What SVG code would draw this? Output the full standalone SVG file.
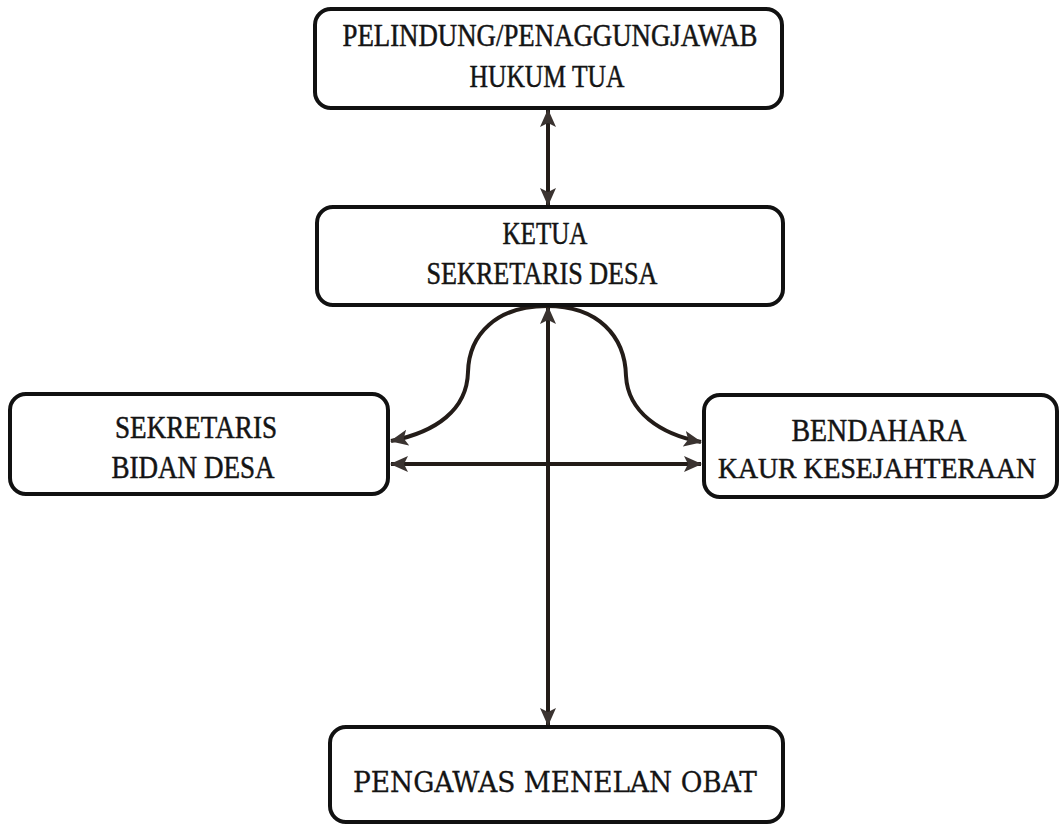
<svg xmlns="http://www.w3.org/2000/svg" width="1061" height="825" viewBox="0 0 1061 825">
  <style>
    .box { fill: #ffffff; stroke: #111111; stroke-width: 4; }
    .lbl { font-family: "Liberation Serif", "DejaVu Serif", serif; font-size: 31px; fill: #141414; stroke: #141414; stroke-width: 0.5; text-anchor: middle; }
    .lbl2 { font-family: "DejaVu Serif", "Liberation Serif", serif; font-size: 28px; fill: #141414; stroke: #141414; stroke-width: 0.3; text-anchor: middle; }
    .con { fill: none; stroke: #231c18; stroke-width: 4; }
  </style>
  <defs>
    <marker id="ah" markerUnits="userSpaceOnUse" markerWidth="20" markerHeight="18" refX="17" refY="9" orient="auto-start-reverse">
      <path d="M0,1 L18,9 L0,17 L4,9 Z" fill="#3a3330"/>
    </marker>
  </defs>
  <rect width="1061" height="825" fill="#ffffff"/>

  <g id="connectors">
    <line class="con" x1="548" y1="110" x2="548" y2="205" marker-start="url(#ah)" marker-end="url(#ah)"/>
    <line class="con" x1="548" y1="307" x2="548" y2="725" marker-start="url(#ah)" marker-end="url(#ah)"/>
    <path class="con" d="M547,306 C497,306 469,334 468,372 C467,410 436,432 391,441" marker-end="url(#ah)"/>
    <path class="con" d="M547,306 C598,306 625,336 626,376 C628,412 660,434 701,442" marker-end="url(#ah)"/>
    <line class="con" x1="391" y1="464" x2="701" y2="464" marker-start="url(#ah)" marker-end="url(#ah)"/>
  </g>

  <g id="node-pelindung">
    <rect class="box" x="315" y="9" width="467" height="99" rx="16"/>
    <text class="lbl" x="550" y="46" textLength="415" lengthAdjust="spacingAndGlyphs">PELINDUNG/PENAGGUNGJAWAB</text>
    <text class="lbl" x="547" y="87" textLength="155" lengthAdjust="spacingAndGlyphs">HUKUM TUA</text>
  </g>

  <g id="node-ketua">
    <rect class="box" x="317" y="207" width="466" height="98" rx="16"/>
    <text class="lbl" x="545" y="244" textLength="85" lengthAdjust="spacingAndGlyphs">KETUA</text>
    <text class="lbl" x="542" y="284" textLength="231" lengthAdjust="spacingAndGlyphs">SEKRETARIS DESA</text>
  </g>

  <g id="node-sekretaris">
    <rect class="box" x="10" y="394" width="378" height="100" rx="16"/>
    <text class="lbl" x="196" y="438" textLength="162" lengthAdjust="spacingAndGlyphs">SEKRETARIS</text>
    <text class="lbl" x="193" y="478" textLength="163" lengthAdjust="spacingAndGlyphs">BIDAN DESA</text>
  </g>

  <g id="node-bendahara">
    <rect class="box" x="704" y="395" width="353" height="102" rx="16"/>
    <text class="lbl" x="879" y="441" textLength="175" lengthAdjust="spacingAndGlyphs">BENDAHARA</text>
    <text class="lbl" x="877" y="478" style="font-size:29.5px" textLength="318" lengthAdjust="spacingAndGlyphs">KAUR KESEJAHTERAAN</text>
  </g>

  <g id="node-pmo">
    <rect class="box" x="330" y="727" width="453" height="95" rx="16"/>
    <text class="lbl2" x="555" y="792" textLength="404" lengthAdjust="spacingAndGlyphs">PENGAWAS MENELAN OBAT</text>
  </g>
</svg>
